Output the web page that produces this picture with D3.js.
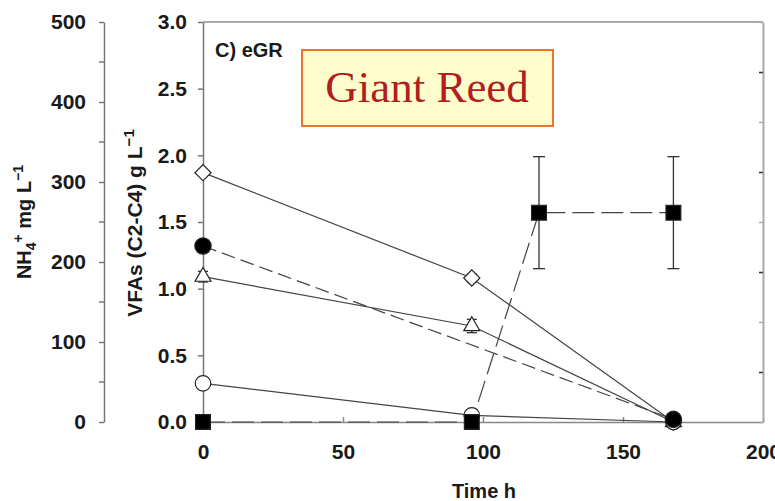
<!DOCTYPE html>
<html>
<head>
<meta charset="utf-8">
<script src="https://cdn.jsdelivr.net/npm/d3@7"></script>
<style>
  body { margin: 0; background: #fff; }
  svg { display: block; font-family: "Liberation Sans", Arial, sans-serif; }
</style>
</head>
<body>
<svg id="chart" width="775" height="501"></svg>
<script>
// data
const diamondVals = [[0, 1.87], [96, 1.08], [168, 0.0]]
const diamondErr = [0.0, 0.03, 0.0]
const circleBlackVals = [[0, 1.32], [168, 0.02]]
const triangleVals = [[0, 1.09], [96, 0.72], [168, 0.0]]
const triangleErr = [0.04, 0.05, 0.0]
const circleOpenVals = [[0, 0.29], [96, 0.05], [168, 0.0]]
const circleOpenErr = [0.0, 0.04, 0.0]
const squareVals = [[0, 0.0], [96, 0.0], [120, 1.57], [168, 1.57]]
const squareErr = [0.0, 0.0, 0.42, 0.42]

const timeTicks = [0, 50, 100, 150, 200]
const vfaTicks = [0, 0.5, 1.0, 1.5, 2.0, 2.5, 3.0]
const nh4Ticks = [0, 100, 200, 300, 400, 500]
const nh4Minor = [50, 150, 250, 350, 450]
const rightTicks = [0, 1, 2, 3, 4, 5, 6, 7, 8]

const svg = d3.select("#chart")

//scales
const x = d3.scaleLinear().domain([0, 200]).range([203, 763])
const y = d3.scaleLinear().domain([0, 3]).range([422, 22])
const yNH4 = d3.scaleLinear().domain([0, 500]).range([422, 22])
const yRight = d3.scaleLinear().domain([0, 8]).range([422, 22])

function styleAxis(g, color) {
  g.select(".domain").attr("stroke", color).attr("stroke-width", 1.5)
  g.selectAll(".tick line").attr("stroke", color).attr("stroke-width", 1.5)
  g.selectAll(".tick text")
    .attr("fill", "#1a1a1a")
    .style("font-size", "21px")
    .style("font-weight", "bold")
}

// axe NH4 (gauche)
const gNH4 = svg.append("g")
  .attr("transform", "translate(104,0)")
  .call(d3.axisLeft(yNH4).tickValues(nh4Ticks).tickSize(5).tickPadding(13).tickSizeOuter(0))
styleAxis(gNH4, "#777")
gNH4.selectAll(".minor")
  .data(nh4Minor)
  .join("line")
  .attr("class", "minor")
  .attr("x1", -5).attr("x2", 0)
  .attr("y1", (d) => yNH4(d)).attr("y2", (d) => yNH4(d))
  .attr("stroke", "#777").attr("stroke-width", 1.5)

// axe VFA
const gVFA = svg.append("g")
  .attr("transform", "translate(203,0)")
  .call(d3.axisLeft(y).tickValues(vfaTicks).tickFormat(d3.format(".1f")).tickSize(5).tickPadding(11).tickSizeOuter(0))
styleAxis(gVFA, "#777")

// axe temps
const gX = svg.append("g")
  .attr("transform", "translate(0,422)")
  .call(d3.axisBottom(x).tickValues(timeTicks).tickSize(-5).tickPadding(22).tickSizeOuter(0))
styleAxis(gX, "#888")

// cadre haut + axe droit
svg.append("line")
  .attr("x1", 203).attr("x2", 763).attr("y1", 22).attr("y2", 22)
  .attr("stroke", "#aaa").attr("stroke-width", 2)

const gR = svg.append("g")
  .attr("transform", "translate(763,0)")
  .call(d3.axisRight(yRight).tickValues(rightTicks).tickSize(-4).tickFormat("").tickSizeOuter(0))
gR.select(".domain").attr("stroke", "#aaa").attr("stroke-width", 2)
gR.selectAll(".tick line")
  .attr("stroke", (d, i) => (i % 2 ? "#333" : "#aaa"))
  .attr("stroke-width", 1.5)

// titres
svg.append("text")
  .attr("transform", "translate(31,222) rotate(-90)")
  .attr("text-anchor", "middle")
  .style("font-size", "20px").style("font-weight", "bold").attr("fill", "#1a1a1a")
  .call((t) => {
    t.append("tspan").text("NH")
    t.append("tspan").text("4").style("font-size", "14px").attr("dy", 5)
    t.append("tspan").text("+").style("font-size", "14px").attr("dy", -13)
    t.append("tspan").text(" mg L").attr("dy", 8)
    t.append("tspan").text("−1").style("font-size", "14px").attr("dy", -8)
  })

svg.append("text")
  .attr("transform", "translate(142,223) rotate(-90)")
  .attr("text-anchor", "middle")
  .style("font-size", "21px").style("font-weight", "bold").attr("fill", "#1a1a1a")
  .call((t) => {
    t.append("tspan").text("VFAs (C2-C4) g L")
    t.append("tspan").text("−1").style("font-size", "15px").attr("dy", -8)
  })

svg.append("text")
  .attr("x", 484).attr("y", 498)
  .attr("text-anchor", "middle")
  .style("font-size", "20px").style("font-weight", "bold").attr("fill", "#1a1a1a")
  .text("Time h")

svg.append("text")
  .attr("x", 215).attr("y", 57)
  .style("font-size", "20px").style("font-weight", "bold").attr("fill", "#1a1a1a")
  .text("C) eGR")

// lignes
const line = d3.line().x((d) => x(d[0])).y((d) => y(d[1]))
const series = [
  { vals: diamondVals, dash: null },
  { vals: triangleVals, dash: null },
  { vals: circleOpenVals, dash: null },
  { vals: circleBlackVals, dash: "14,6" },
  { vals: squareVals, dash: "22,7" },
]
svg.append("g")
  .selectAll("path")
  .data(series)
  .join("path")
  .attr("d", (d) => line(d.vals))
  .attr("fill", "none")
  .attr("stroke", "#444")
  .attr("stroke-width", 1.2)
  .attr("stroke-dasharray", (d) => d.dash)

// barres d'erreur
function errorBars(vals, errs, cap) {
  const data = vals.map((d, i) => ({ t: d[0], v: d[1], e: errs[i] })).filter((d) => d.e > 0)
  const g = svg.append("g").attr("stroke", "#333").attr("stroke-width", 1.3)
  g.selectAll(".v").data(data).join("line")
    .attr("x1", (d) => x(d.t)).attr("x2", (d) => x(d.t))
    .attr("y1", (d) => y(d.v - d.e)).attr("y2", (d) => y(d.v + d.e))
  g.selectAll(".c1").data(data).join("line")
    .attr("x1", (d) => x(d.t) - cap).attr("x2", (d) => x(d.t) + cap)
    .attr("y1", (d) => y(d.v - d.e)).attr("y2", (d) => y(d.v - d.e))
  g.selectAll(".c2").data(data).join("line")
    .attr("x1", (d) => x(d.t) - cap).attr("x2", (d) => x(d.t) + cap)
    .attr("y1", (d) => y(d.v + d.e)).attr("y2", (d) => y(d.v + d.e))
}
errorBars(diamondVals, diamondErr, 5)
errorBars(triangleVals, triangleErr, 5)
errorBars(circleOpenVals, circleOpenErr, 5)
errorBars(squareVals, squareErr, 6)

// marqueurs
function markers(vals, type, size, fill, rot) {
  svg.append("g")
    .selectAll("path")
    .data(vals)
    .join("path")
    .attr("transform", (d) => `translate(${x(d[0])},${y(d[1])}) rotate(${rot || 0})`)
    .attr("d", d3.symbol().type(type).size(size))
    .attr("fill", fill)
    .attr("stroke", "#222")
    .attr("stroke-width", 1.2)
}
markers(diamondVals, d3.symbolSquare, 130, "#fff", 45)
markers(triangleVals, d3.symbolTriangle, 110, "#fff")
markers(circleOpenVals, d3.symbolCircle, 190, "#fff")
markers(circleBlackVals, d3.symbolCircle, 210, "#000")
markers(squareVals, d3.symbolSquare, 220, "#000")

// encadre Giant Reed
svg.append("rect")
  .attr("x", 302).attr("y", 50).attr("width", 251).attr("height", 76)
  .attr("fill", "#fffdcc")
  .attr("stroke", "#ea7430")
  .attr("stroke-width", 2)

svg.append("text")
  .attr("x", 427).attr("y", 102)
  .attr("text-anchor", "middle")
  .style("font-family", "'Liberation Serif', 'DejaVu Serif', serif")
  .style("font-size", "45px")
  .attr("fill", "#b01e1e")
  .text("Giant Reed")
</script>
</body>
</html>
